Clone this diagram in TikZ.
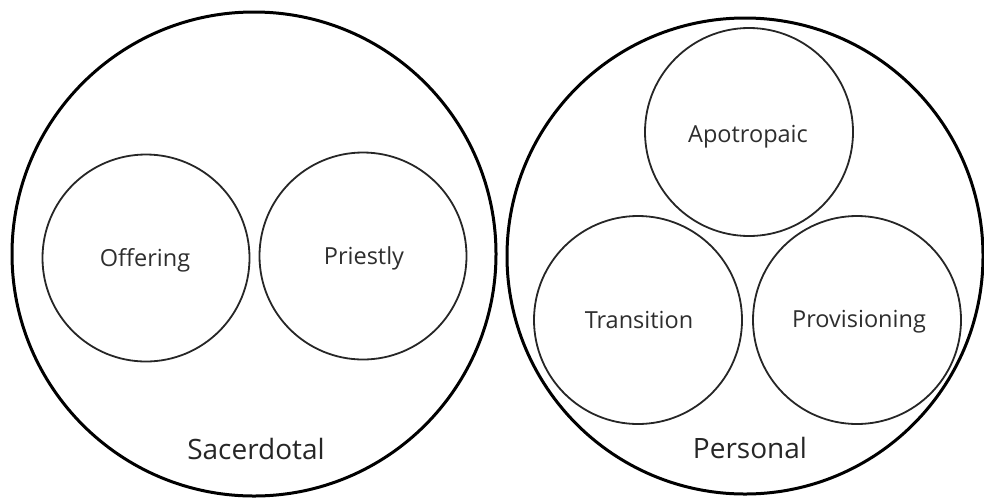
\documentclass[tikz,border=0pt]{standalone}
\usepackage{fontspec}
\setmainfont{Open Sans}
\begin{document}
\begin{tikzpicture}[x=1pt,y=-1pt,
  outer/.style={draw=black,line width=3pt,circle,minimum size=#1,inner sep=0pt},
  inner/.style={draw=black!85,line width=1.8pt,circle,minimum size=#1,inner sep=0pt},
  lab/.style={font=\fontsize{23.5}{26}\selectfont,text=black!82,anchor=base,inner sep=0pt},
  biglab/.style={font=\fontsize{28}{32}\selectfont,text=black!85,anchor=base,inner sep=0pt}]
\useasboundingbox (0,0) rectangle (984,499);
\node[outer=484pt] (sac) at (254,254) {};
\node[outer=476pt] (per) at (745,256) {};
\node[inner=207pt] (off) at (146,258) {};
\node[inner=207pt] (pri) at (363,256) {};
\node[inner=208pt] (apo) at (749,132) {};
\node[inner=208pt] (tra) at (638,320) {};
\node[inner=208pt] (pro) at (857,320) {};
\node[lab] (offt) at (145,266) {Offering};
\node[lab] (prit) at (364,264) {Priestly};
\node[lab] (apot) at (748,142) {Apotropaic};
\node[lab] (trat) at (639,328) {Transition};
\node[lab] (prot) at (859,327) {Provisioning};
\node[biglab] (sact) at (256,459) {Sacerdotal};
\node[biglab] (pert) at (750,458) {Personal};
\end{tikzpicture}
\end{document}
